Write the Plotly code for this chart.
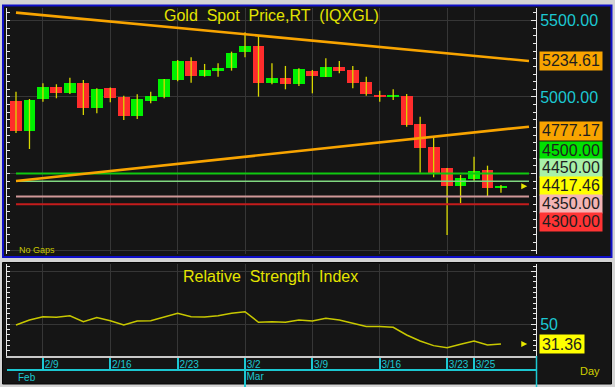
import plotly.graph_objects as go

W, H = 615, 387

# ---------------- data ----------------
dates = ["2/5", "2/6", "2/9", "2/10", "2/11", "2/12", "2/13",
         "2/16", "2/17", "2/18", "2/19", "2/20",
         "2/23", "2/24", "2/25", "2/26", "2/27",
         "3/2", "3/3", "3/4", "3/5", "3/6",
         "3/9", "3/10", "3/11", "3/12", "3/13",
         "3/16", "3/17", "3/18", "3/19", "3/20",
         "3/23", "3/24", "3/25", "3/26", "3/27"]

opens = [4975.8, 4778.0, 4985.0, 5063.0, 5024.0, 5089.5, 4926.0,
         5057.0, 4998.0, 4876.0, 4976.0, 5002.0,
         5111.0, 5235.0, 5137.0, 5170.0, 5187.5,
         5292.0, 5335.0, 5093.4, 5126.0, 5085.0,
         5170.0, 5132.6, 5198.0, 5176.4, 5100.0,
         5013.0, 5004.6, 5006.5, 4823.6, 4675.4,
         4534.3, 4418.7, 4462.4, 4523.0, 4403.6]
highs = [5034.6, 4986.9, 5089.5, 5083.0, 5126.0, 5111.0, 5057.0,
         5062.0, 5008.5, 5017.6, 5034.6, 5118.0,
         5241.7, 5259.0, 5215.6, 5220.0, 5296.0,
         5422.6, 5400.4, 5220.0, 5202.5, 5187.5,
         5176.4, 5252.8, 5235.0, 5202.5, 5132.6,
         5041.0, 5050.0, 5019.6, 4871.3, 4740.7,
         4536.0, 4490.5, 4610.0, 4551.3, 4425.0]
lows = [4764.8, 4660.0, 4969.3, 4991.5, 5020.0, 4882.4, 4893.5,
        4965.4, 4849.8, 4856.3, 4958.8, 4991.5,
        5102.5, 5093.4, 5132.6, 5132.6, 5171.8,
        5259.0, 5002.0, 5083.0, 5050.0, 5072.0,
        5024.0, 5130.0, 5154.8, 5056.8, 5008.5,
        4969.3, 4980.4, 4806.0, 4505.5, 4475.5,
        4098.6, 4305.7, 4453.3, 4353.3, 4375.0]
closes = [4777.9, 4980.4, 5063.4, 5028.0, 5089.5, 4926.0, 5050.0,
          4991.5, 4875.9, 4985.0, 5006.5, 5115.6,
          5235.0, 5137.0, 5176.4, 5191.4, 5285.4,
          5335.0, 5093.4, 5126.0, 5085.0, 5183.0,
          5137.0, 5198.0, 5170.0, 5093.4, 5017.6,
          5002.0, 5008.5, 4817.0, 4668.8, 4495.0,
          4418.7, 4472.9, 4516.6, 4403.6, 4417.46]

rsi = [49.3, 54.0, 57.2, 56.6, 58.1, 52.5, 56.3, 53.4, 49.3, 53.1, 53.4, 57.2,
       60.4, 57.2, 56.9, 58.1, 60.4, 61.9, 51.9, 52.5, 51.9, 54.1,
       53.1, 55.7, 54.1, 51.0, 47.8, 47.8, 47.2, 39.9, 34.2, 29.8,
       27.9, 31.1, 34.2, 30.4, 31.36]

date_ticks = ["2/9", "2/16", "2/23", "3/2", "3/9", "3/16", "3/23", "3/25"]
month_labels = ["Feb", "Mar"]
month_starts = ["2/5", "3/2"]

trend_x = [0, 38.08]
trend_upper = [5550.7, 5234.61]
trend_lower = [4451.3, 4806.0]

level_values = [4500.0, 4450.0, 4350.0, 4300.0]
level_colors = ["#10c810", "#80d880", "#d09898", "#c41c1c"]
level_widths = [2, 1.6, 2, 2]

flag_values = [5234.61, 4777.17, 4500.00, 4450.00, 4417.46, 4350.00, 4300.00]
flag_texts = ["5234.61", "4777.17", "4500.00", "4450.00", "4417.46", "4350.00", "4300.00"]
flag_colors = ["#f8a400", "#f8a400", "#00e000", "#a8f0a8", "#ffff00", "#f4b4b4", "#ff3434"]

rsi_last = 31.36

# ---------------- helpers ----------------
def pxx(p):
    return p / W


def pxy(p):
    return 1 - p / H


CYAN = "#1cc8d2"
YEL = "#e4e400"
GRID = "#363636"
BG = "#151515"
FONT = "Liberation Sans, Arial, sans-serif"

n = len(dates)
idx = list(range(n))
xr = [-0.668, 38.6]
top_px = (8, 254)
yr_top = [3974.5, 5581.0]
bot_px = (264, 356)
yr_bot = [20, 107]

fig = go.Figure()

# wicks
wx, wy = [], []
for i in idx:
    wx += [i, i, None]
    wy += [lows[i], highs[i], None]
fig.add_trace(go.Scatter(x=wx, y=wy, mode="lines", line=dict(color="#d8d800", width=1.3),
                         xaxis="x", yaxis="y", hoverinfo="skip", showlegend=False))

# bodies
bases = [min(o, c) for o, c in zip(opens, closes)]
heights = [max(abs(c - o), 8) for o, c in zip(opens, closes)]
cols = ["#00f000" if c >= o else "#ff2c2c" for o, c in zip(opens, closes)]
fig.add_trace(go.Bar(x=idx, y=heights, base=bases, width=0.88,
                     marker=dict(color=cols, line=dict(width=0)),
                     xaxis="x", yaxis="y", hoverinfo="skip", showlegend=False))

# horizontal levels
for v, c, w in zip(level_values, level_colors, level_widths):
    fig.add_trace(go.Scatter(x=trend_x, y=[v, v], mode="lines", line=dict(color=c, width=w),
                             xaxis="x", yaxis="y", hoverinfo="skip", showlegend=False))

# trend lines
for tl in (trend_upper, trend_lower):
    fig.add_trace(go.Scatter(x=trend_x, y=tl, mode="lines", line=dict(color="#f8a400", width=2.6),
                             xaxis="x", yaxis="y", hoverinfo="skip", showlegend=False))

# current price arrows
fig.add_trace(go.Scatter(x=[n - 1 + 1.95], y=[closes[-1]], mode="markers",
                         marker=dict(symbol="arrow-right", size=6, color="#e8e800"),
                         xaxis="x", yaxis="y", hoverinfo="skip", showlegend=False))

# RSI
fig.add_trace(go.Scatter(x=idx, y=rsi, mode="lines", line=dict(color="#c8c800", width=1.5),
                         xaxis="x2", yaxis="y2", hoverinfo="skip", showlegend=False))
fig.add_trace(go.Scatter(x=[n - 1 + 1.95], y=[rsi[-1]], mode="markers",
                         marker=dict(symbol="arrow-right", size=6, color="#e8e800"),
                         xaxis="x2", yaxis="y2", hoverinfo="skip", showlegend=False))

# empty traces so the helper axes get drawn
for xa, ya in (("x", "y3"), ("x2", "y4"), ("x3", "y2")):
    fig.add_trace(go.Scatter(x=[None], y=[None], mode="lines", xaxis=xa, yaxis=ya,
                             hoverinfo="skip", showlegend=False))

tick_idx = [dates.index(d) for d in date_ticks]
xdom = [pxx(7), pxx(536)]
common_x = dict(domain=xdom, range=xr, zeroline=False, fixedrange=True)

annotations = []
annotations.append(dict(text="Gold\u00a0 Spot\u00a0 Price,RT\u00a0 (IQXGL)", xref="paper", yref="paper",
                        x=pxx(271.5), y=pxy(15.5), xanchor="center", yanchor="middle", showarrow=False,
                        font=dict(family=FONT, size=16, color=YEL)))
annotations.append(dict(text="Relative\u00a0 Strength\u00a0 Index", xref="paper", yref="paper",
                        x=pxx(270), y=pxy(276), xanchor="center", yanchor="middle", showarrow=False,
                        font=dict(family=FONT, size=16, color=YEL)))
annotations.append(dict(text="No Gaps", xref="paper", yref="paper", x=pxx(16.5), y=pxy(250),
                        xanchor="left", yanchor="middle", showarrow=False,
                        font=dict(family=FONT, size=9, color="#c8c800")))
annotations.append(dict(text="Day", xref="paper", yref="paper", x=pxx(590), y=pxy(371),
                        xanchor="center", yanchor="middle", showarrow=False,
                        font=dict(family=FONT, size=11, color="#d0d000")))
annotations.append(dict(text=month_labels[0], xref="x2", yref="paper", x=dates.index(month_starts[0]),
                        y=pxy(377), xanchor="left", yanchor="middle", showarrow=False,
                        font=dict(family=FONT, size=10, color=CYAN)))

# price flags stacked around the current price
ppu = (top_px[1] - top_px[0]) / (yr_top[1] - yr_top[0])
flag_h = 17.7
hu = flag_h / ppu
cur = closes[-1]
order = sorted(range(len(flag_values)), key=lambda k: -flag_values[k])
ci = [k for k in order if abs(flag_values[k] - cur) < 0.01][0]
pos = {ci: cur}
ci_rank = order.index(ci)
prev = cur
for k in reversed(order[:ci_rank]):
    p = max(flag_values[k], prev + hu)
    pos[k] = p
    prev = p
prev = cur
for k in order[ci_rank + 1:]:
    p = min(flag_values[k], prev - hu)
    pos[k] = p
    prev = p
for k in range(len(flag_values)):
    annotations.append(dict(text=flag_texts[k], xref="paper", yref="y", x=pxx(538.5), y=pos[k],
                            xanchor="left", yanchor="middle", showarrow=False,
                            width=62, height=flag_h, borderpad=0, bgcolor=flag_colors[k],
                            align="center", font=dict(family=FONT, size=16, color="#1e1e1e")))
annotations.append(dict(text=f"{rsi_last:.2f}", xref="paper", yref="y2", x=pxx(539), y=rsi_last,
                        xanchor="left", yanchor="middle", showarrow=False,
                        width=44, height=18, borderpad=0, bgcolor="#ffff00",
                        font=dict(family=FONT, size=16, color="#1e1e1e")))

shapes = [
    dict(type="rect", xref="paper", yref="paper", x0=pxx(3), x1=pxx(611.5), y0=pxy(257), y1=pxy(5.5),
         fillcolor=BG, line=dict(color="#1010c8", width=2), layer="below"),
    dict(type="rect", xref="paper", yref="paper", x0=pxx(2.5), x1=pxx(611.5), y0=pxy(384), y1=pxy(262.5),
         fillcolor=BG, line=dict(color="#050505", width=1), layer="below"),
    dict(type="line", xref="paper", yref="paper", x0=pxx(536.5), x1=pxx(536.5), y0=pxy(356), y1=pxy(387),
         line=dict(color=CYAN, width=1.5), layer="above"),
]

fig.update_layout(
    width=W, height=H, margin=dict(l=0, r=0, t=0, b=0),
    paper_bgcolor="#d4d4d4", plot_bgcolor="rgba(0,0,0,0)",
    showlegend=False, bargap=0,
    font=dict(family=FONT),
    xaxis=dict(**common_x, anchor="y", tickmode="array", tickvals=tick_idx, showticklabels=False,
               ticks="", showgrid=True, gridcolor=GRID, gridwidth=1, showline=False),
    yaxis=dict(domain=[pxy(top_px[1]), pxy(top_px[0])], range=yr_top, anchor="x", side="right",
               tickmode="array", tickvals=[4000, 4500, 5000, 5500],
               ticktext=["", "", "5000.00", "5500.00"],
               tickfont=dict(family=FONT, size=16, color=CYAN),
               ticks="inside", ticklen=5, tickcolor="#e8e8e8", tickwidth=1,
               minor=dict(ticks="inside", ticklen=3, tickcolor="#e8e8e8", dtick=50, tick0=0, showgrid=False),
               showline=True, linecolor="#e8e8e8", linewidth=1,
               showgrid=True, gridcolor=GRID, gridwidth=1, zeroline=False, fixedrange=True),
    yaxis3=dict(overlaying="y", range=yr_top, anchor="x", side="left", showticklabels=False,
                tickmode="linear", tick0=0, dtick=50, ticks="inside", ticklen=3, tickcolor="#e8e8e8",
                showline=True, linecolor="#e8e8e8", linewidth=1, showgrid=False, zeroline=False,
                fixedrange=True),
    xaxis2=dict(**common_x, anchor="y2", tickmode="array", tickvals=tick_idx, ticktext=date_ticks,
                ticks="outside", ticklen=13, tickcolor=CYAN, tickwidth=1.5, tickangle=0,
                ticklabelposition="outside right", ticklabelstandoff=-2,
                tickfont=dict(family=FONT, size=10, color=CYAN),
                showgrid=True, gridcolor=GRID, gridwidth=1,
                showline=True, linecolor="#c8c8c8", linewidth=2),
    xaxis3=dict(overlaying="x2", anchor="free", position=pxy(369.5), range=xr, fixedrange=True,
                tickmode="array", tickvals=[dates.index(month_starts[1])], ticktext=[month_labels[1]],
                ticks="outside", ticklen=18, tickcolor=CYAN, tickwidth=1.5, tickangle=0,
                ticklabelposition="outside right", ticklabelstandoff=-2,
                tickfont=dict(family=FONT, size=10, color=CYAN),
                showgrid=False, zeroline=False, showline=True, linecolor=CYAN, linewidth=1.5),
    yaxis2=dict(domain=[pxy(bot_px[1]), pxy(bot_px[0])], range=yr_bot, anchor="x2", side="right",
                tickmode="array", tickvals=[50, 100], ticktext=["50", ""],
                tickfont=dict(family=FONT, size=16, color=CYAN),
                ticks="inside", ticklen=5, tickcolor="#e8e8e8",
                minor=dict(ticks="inside", ticklen=3, tickcolor="#e8e8e8", dtick=5, tick0=0, showgrid=False),
                showline=True, linecolor="#e8e8e8", linewidth=1,
                showgrid=True, gridcolor=GRID, gridwidth=1, zeroline=False, fixedrange=True),
    yaxis4=dict(overlaying="y2", range=yr_bot, anchor="x2", side="left", showticklabels=False,
                tickmode="linear", tick0=0, dtick=5, ticks="inside", ticklen=3, tickcolor="#e8e8e8",
                showline=True, linecolor="#e8e8e8", linewidth=1, showgrid=False, zeroline=False,
                fixedrange=True),
    annotations=annotations,
    shapes=shapes,
)

fig.write_html("out.html")
